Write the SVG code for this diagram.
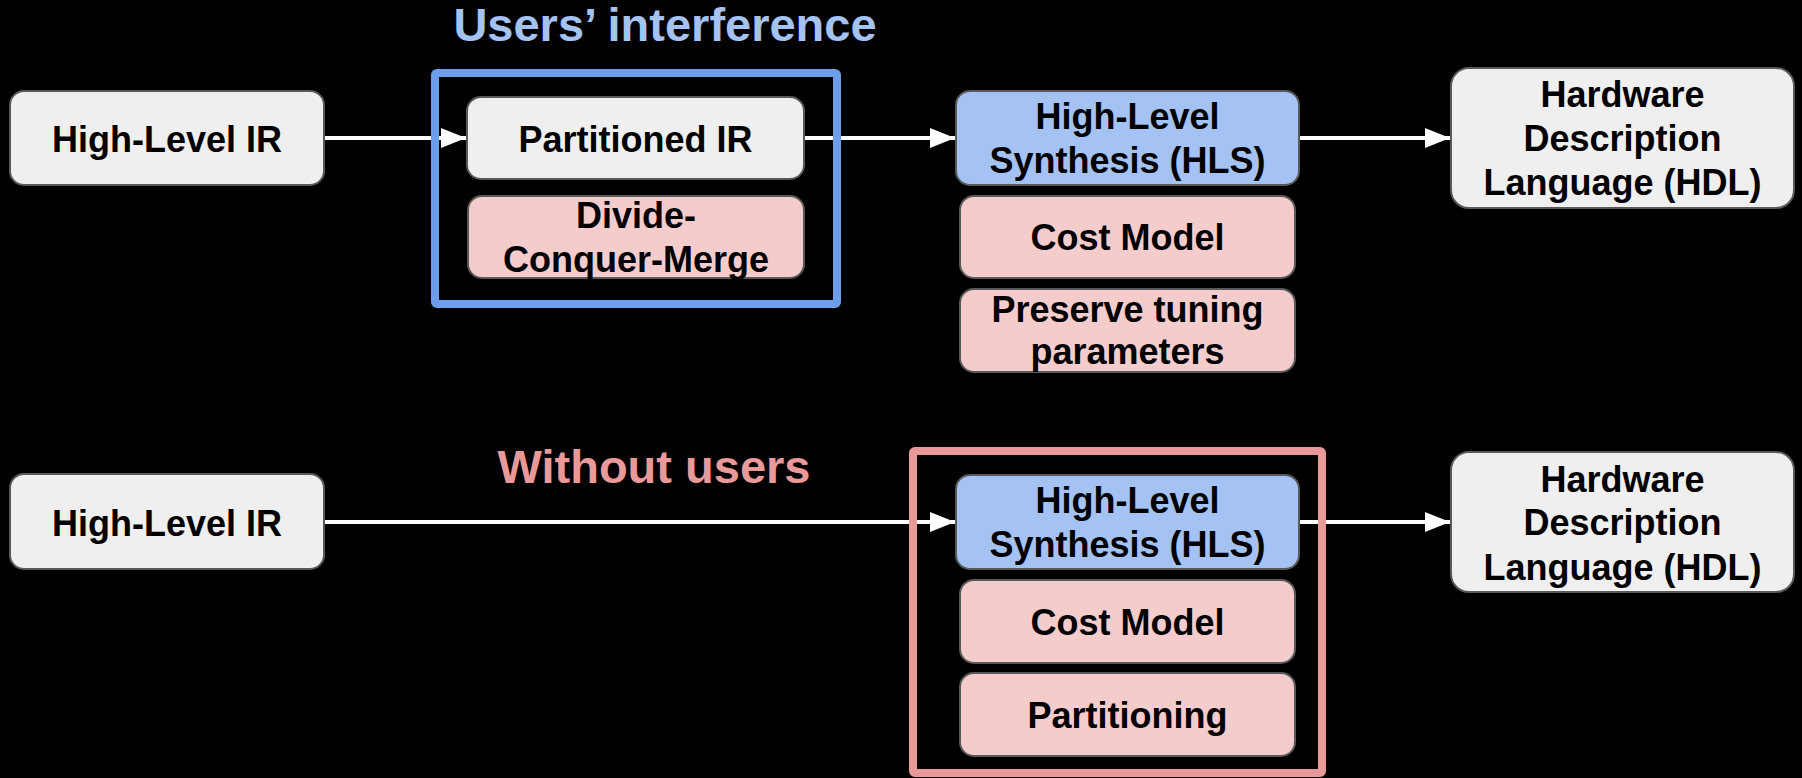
<svg xmlns="http://www.w3.org/2000/svg" width="1802" height="778" viewBox="0 0 1802 778">
<style>
.box{stroke:#595959;stroke-width:2}
.gray{fill:#efefef}
.pink{fill:#f4cccc}
.blue{fill:#a4c2f4}
.t{font-family:"Liberation Sans",Arial,sans-serif;font-weight:bold;font-size:36px;fill:#000;text-anchor:middle}
.title{font-family:"Liberation Sans",Arial,sans-serif;font-weight:bold;font-size:47px;text-anchor:middle}
.conn{stroke:#fff;stroke-width:4;fill:none;marker-end:url(#arr)}
</style>
<defs>
<marker id="arr" markerUnits="userSpaceOnUse" markerWidth="25" markerHeight="20" refX="25" refY="10" orient="auto">
<path d="M0,0 L25,10 L0,20 z" fill="#fff"/>
</marker>
</defs>
<rect width="1802" height="778" fill="#000"/>
<g id="connectors">
<line class="conn" x1="324" y1="138" x2="466" y2="138"/>
<line class="conn" x1="804" y1="138" x2="955" y2="138"/>
<line class="conn" x1="1299" y1="138" x2="1450" y2="138"/>
<line class="conn" x1="324" y1="522" x2="955" y2="522"/>
<line class="conn" x1="1299" y1="522" x2="1450" y2="522"/>
</g>
<g id="title-users">
<text class="title" x="665" y="41" fill="#a4c2f4">Users’ interference</text>
</g>
<g id="title-without">
<text class="title" x="654" y="483" fill="#ea9999">Without users</text>
</g>
<g id="hlir-top">
<rect class="box gray" x="10" y="91" width="314" height="94" rx="14"/>
<text class="t" x="167" y="152">High-Level IR</text>
</g>
<g id="partitioned-ir">
<rect class="box gray" x="467" y="97" width="337" height="82" rx="14"/>
<text class="t" x="635.5" y="152">Partitioned IR</text>
</g>
<g id="dcm">
<rect class="box pink" x="468" y="196" width="336" height="82" rx="14"/>
<text class="t" x="636" y="228">Divide-</text>
<text class="t" x="636" y="272">Conquer-Merge</text>
</g>
<g id="hls-top">
<rect class="box blue" x="956" y="91" width="343" height="94" rx="14"/>
<text class="t" x="1127.5" y="129">High-Level</text>
<text class="t" x="1127.5" y="173">Synthesis (HLS)</text>
</g>
<g id="cost-top">
<rect class="box pink" x="960" y="196" width="335" height="82" rx="14"/>
<text class="t" x="1127.5" y="250">Cost Model</text>
</g>
<g id="preserve">
<rect class="box pink" x="960" y="289" width="335" height="83" rx="14"/>
<text class="t" x="1127.5" y="322">Preserve tuning</text>
<text class="t" x="1127.5" y="364">parameters</text>
</g>
<g id="hdl-top">
<rect class="box gray" x="1451" y="68" width="343" height="140" rx="18"/>
<text class="t" x="1622.5" y="107">Hardware</text>
<text class="t" x="1622.5" y="151">Description</text>
<text class="t" x="1622.5" y="195">Language (HDL)</text>
</g>
<g id="hlir-bottom">
<rect class="box gray" x="10" y="474" width="314" height="95" rx="14"/>
<text class="t" x="167" y="536">High-Level IR</text>
</g>
<g id="hls-bottom">
<rect class="box blue" x="956" y="475" width="343" height="94" rx="14"/>
<text class="t" x="1127.5" y="513">High-Level</text>
<text class="t" x="1127.5" y="557">Synthesis (HLS)</text>
</g>
<g id="cost-bottom">
<rect class="box pink" x="960" y="580" width="335" height="83" rx="14"/>
<text class="t" x="1127.5" y="635">Cost Model</text>
</g>
<g id="partitioning">
<rect class="box pink" x="960" y="673" width="335" height="83" rx="14"/>
<text class="t" x="1127.5" y="728">Partitioning</text>
</g>
<g id="hdl-bottom">
<rect class="box gray" x="1451" y="452" width="343" height="140" rx="18"/>
<text class="t" x="1622.5" y="492">Hardware</text>
<text class="t" x="1622.5" y="535">Description</text>
<text class="t" x="1622.5" y="580">Language (HDL)</text>
</g>
<g id="container-users">
<rect x="435" y="73" width="402" height="231" fill="none" stroke="#6d9eeb" stroke-width="8" rx="2"/>
</g>
<g id="container-without">
<rect x="913" y="451" width="409" height="322" fill="none" stroke="#ea9999" stroke-width="8" rx="2"/>
</g>
</svg>
